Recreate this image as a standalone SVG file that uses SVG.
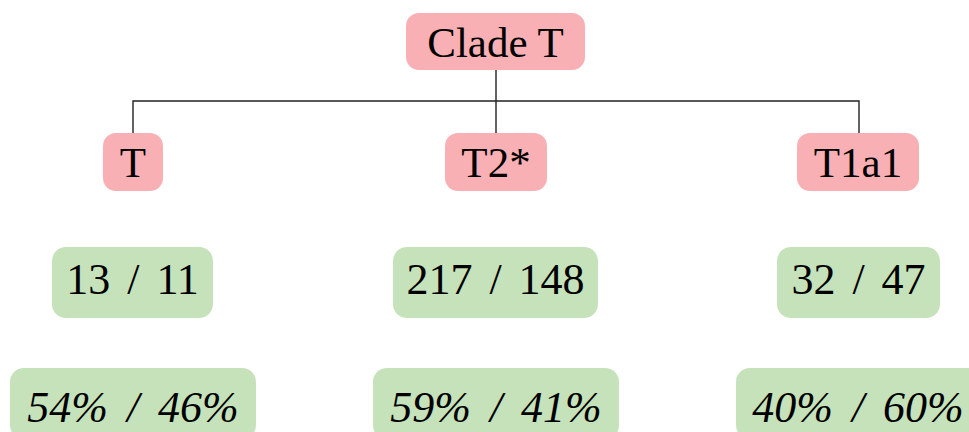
<svg xmlns="http://www.w3.org/2000/svg" width="969" height="432" viewBox="0 0 969 432">
<style>
.pink{fill:#F9B0B4}
.green{fill:#C6E2BA}
text{font-family:"Liberation Serif","DejaVu Serif",serif;font-size:43px;fill:#000;text-anchor:middle}
.num{font-size:44px;word-spacing:6px}
.it{font-style:italic;font-size:44px;word-spacing:8px}
.conn{stroke:#222;stroke-width:1.4;fill:none}
</style>
<rect width="969" height="432" fill="#fff"/>
<g id="connectors">
<path class="conn" d="M496 70V133M133 133V101H859V133"/>
</g>
<g id="cladeT"><rect class="pink" x="406" y="13" width="179" height="57" rx="13"/><text x="495.5" y="57">Clade T</text></g>
<g id="T"><rect class="pink" x="103" y="133" width="60" height="58" rx="13"/><text x="133" y="177">T</text></g>
<g id="T2"><rect class="pink" x="445" y="133" width="102" height="58" rx="13"/><text x="496" y="177">T2*</text></g>
<g id="T1a1"><rect class="pink" x="797" y="133" width="122" height="58" rx="13"/><text x="858" y="177">T1a1</text></g>
<g id="n1"><rect class="green" x="52" y="247" width="161" height="71" rx="14"/><text class="num" x="132.5" y="294">13 / 11</text></g>
<g id="n2"><rect class="green" x="393" y="247" width="205" height="71" rx="14"/><text class="num" x="495.5" y="294">217 / 148</text></g>
<g id="n3"><rect class="green" x="777" y="247" width="163" height="71" rx="14"/><text class="num" x="858.5" y="294">32 / 47</text></g>
<g id="p1"><rect class="green" x="10" y="368" width="246" height="71" rx="14"/><text class="it" x="133" y="422">54% / 46%</text></g>
<g id="p2"><rect class="green" x="373" y="368" width="246" height="71" rx="14"/><text class="it" x="496" y="422">59% / 41%</text></g>
<g id="p3"><rect class="green" x="736" y="368" width="246" height="71" rx="14"/><text class="it" x="858" y="422">40% / 60%</text></g>
</svg>
